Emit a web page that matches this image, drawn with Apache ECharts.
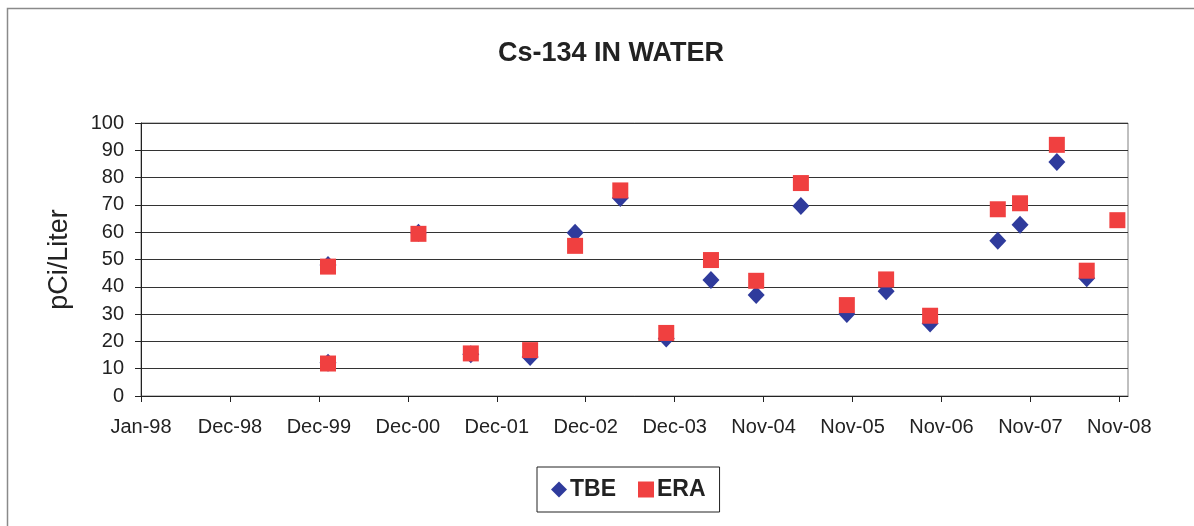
<!DOCTYPE html>
<html>
<head>
<meta charset="utf-8">
<script src="https://cdn.jsdelivr.net/npm/echarts@6/dist/echarts.min.js"></script>
<style>
  html, body { margin: 0; padding: 0; background: #fff; }
  #chart { width: 1194px; height: 526px; }
</style>
</head>
<body>
<div id="chart"></div>
<script>
// Sample dates and measured Cs-134 activity (pCi/Liter)
const sampleDates = ['2000-01-28', '2000-01-28', '2001-01-28', '2001-08-28', '2002-04-25', '2002-10-24',
  '2003-04-25', '2003-10-28', '2004-04-26', '2004-10-26', '2005-04-25', '2005-10-28', '2006-04-05',
  '2006-09-30', '2007-07-01', '2007-09-29', '2008-02-25', '2008-06-25', '2008-10-27'];
const tbeValues = [48, 12.2, 59.8, 15.3, 14.3, 59.8, 72.5, 21.1, 42.5, 37, 69.6, 30.0, 38.4, 26.6, 56.9, 62.7, 85.7, 43.1, null];
const eraValues = [47.4, 11.9, 59.4, 15.6, 16.8, 55, 75.3, 23.1, 49.8, 42.2, 78.0, 33.3, 42.7, 29.4, 68.4, 70.6, 92.0, 45.9, 64.4];

// Date axis: starts Jan-98, one major unit every 360 days
const DAY = 86400000;
const axisStart = Date.UTC(1998, 0, 1);
const majorDays = 360;
const tickCount = 12;
const axisEnd = axisStart + 3995 * DAY;
const tickValues = [];
for (let i = 0; i < tickCount; i++) tickValues.push(axisStart + i * majorDays * DAY);

const MONTHS = ['Jan', 'Feb', 'Mar', 'Apr', 'May', 'Jun', 'Jul', 'Aug', 'Sep', 'Oct', 'Nov', 'Dec'];
function fmtDate(v) {
  const d = new Date(v);
  return MONTHS[d.getUTCMonth()] + '-' + String(d.getUTCFullYear()).slice(2);
}
function toPoints(values) {
  return sampleDates.map((s, i) => [Date.parse(s + 'T00:00:00Z'), values[i]]).filter(p => p[1] != null);
}

const FONT = '"Liberation Sans", Arial, sans-serif';
const chart = echarts.init(document.getElementById('chart'), null, { renderer: 'canvas' });
chart.setOption({
  backgroundColor: '#ffffff',
  animation: false,
  title: {
    text: 'Cs-134 IN WATER',
    left: 493,
    top: 35,
    textStyle: { fontFamily: FONT, fontSize: 27, fontWeight: 'bold', color: '#222' }
  },
  graphic: [{
    type: 'rect',
    shape: { x: 7.5, y: 8.5, width: 1200, height: 540 },
    style: { fill: 'none', stroke: '#8a8a8a', lineWidth: 1.5 },
    silent: true,
    z: -1
  }],
  legend: {
    left: 537,
    top: 467,
    padding: [11, 14, 11, 14],
    itemGap: 22,
    itemWidth: 16,
    itemHeight: 16,
    borderColor: '#222',
    borderWidth: 1,
    textStyle: { fontFamily: FONT, fontSize: 23, fontWeight: 'bold', color: '#222', padding: [0, 0, 0, -2] },
    data: [
      { name: 'TBE', icon: 'diamond' },
      { name: 'ERA', icon: 'rect' }
    ]
  },
  grid: {
    left: 141, right: 66, top: 123, bottom: 130,
    show: true, borderColor: '#808080', borderWidth: 1
  },
  xAxis: {
    type: 'value',
    min: axisStart,
    max: axisEnd,
    interval: majorDays * DAY,
    splitLine: { show: false },
    axisLine: { show: true, onZero: false, lineStyle: { color: '#222', width: 1 } },
    axisTick: { show: true, inside: false, length: 6, customValues: tickValues, lineStyle: { color: '#222' } },
    axisLabel: {
      customValues: tickValues,
      formatter: fmtDate,
      margin: 21,
      fontFamily: FONT, fontSize: 20, color: '#222'
    }
  },
  yAxis: {
    type: 'value',
    min: 0, max: 100, interval: 10,
    name: 'pCi/Liter',
    nameLocation: 'middle',
    nameGap: 68,
    nameTextStyle: { fontFamily: FONT, fontSize: 27, color: '#222' },
    axisLine: { show: true, lineStyle: { color: '#222', width: 1 } },
    axisTick: { show: true, inside: false, length: 6, lineStyle: { color: '#222' } },
    axisLabel: { margin: 17, fontFamily: FONT, fontSize: 20, color: '#222' },
    splitLine: { show: true, lineStyle: { color: '#333', width: 1.2 } }
  },
  series: [
    {
      name: 'TBE',
      type: 'scatter',
      symbol: 'diamond',
      symbolSize: [17, 18],
      itemStyle: { color: '#2f3b9c', opacity: 1 },
      data: toPoints(tbeValues),
      z: 2
    },
    {
      name: 'ERA',
      type: 'scatter',
      symbol: 'rect',
      symbolSize: 16,
      itemStyle: { color: '#f04040', opacity: 1 },
      data: toPoints(eraValues),
      z: 3
    }
  ]
});
</script>
</body>
</html>
